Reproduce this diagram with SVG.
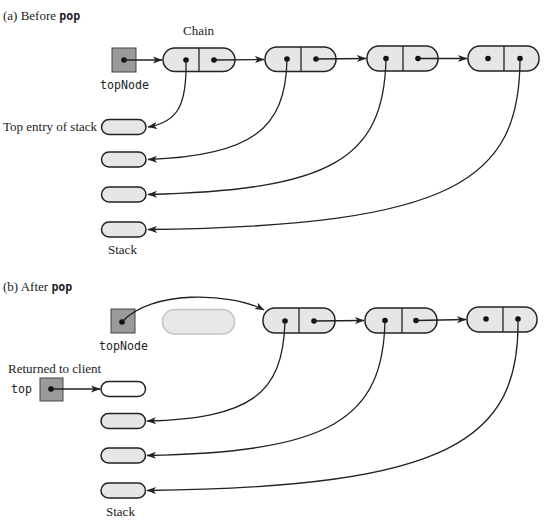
<svg xmlns="http://www.w3.org/2000/svg" width="545" height="526" viewBox="0 0 545 526">
<style>
.lbl{font-family:"Liberation Serif","Times New Roman",serif;font-size:13px;fill:#222}
.mono{font-family:"DejaVu Sans Mono","Liberation Mono",monospace;font-size:11.6px;fill:#222}
.node{fill:#e6e6e6;stroke:#222;stroke-width:1.5}
.div{stroke:#222;stroke-width:1.3}
.ghost{fill:#e8e8e8;stroke:#c4c4c4;stroke-width:1.5}
.empty{fill:#fff;stroke:#222;stroke-width:1.5}
.ref{fill:#9a9a9a;stroke:#444;stroke-width:1}
.dot{fill:#111}
.conn{fill:none;stroke:#222;stroke-width:1.3;marker-end:url(#ah)}
</style>
<defs>
<marker id="ah" markerWidth="10" markerHeight="8" refX="9" refY="4" orient="auto" markerUnits="userSpaceOnUse">
<path d="M0,0.5 L9.5,4 L0,7.5 L2.5,4 z" fill="#222"/>
</marker>
</defs>
<rect width="545" height="526" fill="#fff"/>

<text class="lbl" x="3" y="20">(a) Before <tspan class="mono" style="font-weight:bold">pop</tspan></text>
<text class="lbl" x="183" y="35">Chain</text>

<g id="a-topNode">
<rect class="ref" x="112" y="48" width="24" height="24"/>
<circle class="dot" cx="124" cy="60" r="2.8"/>
<text class="mono" x="100" y="89">topNode</text>
</g>
<g id="a-n1">
<rect class="node" x="163" y="48" width="72" height="23.5" rx="11.75"/>
<line class="div" x1="199" y1="48" x2="199" y2="71.5"/>
<circle class="dot" cx="186" cy="60" r="2.8"/><circle class="dot" cx="214" cy="60" r="2.8"/>
</g>
<g id="a-n2">
<rect class="node" x="265" y="47" width="71" height="24.5" rx="12"/>
<line class="div" x1="301" y1="47" x2="301" y2="71.5"/>
<circle class="dot" cx="287" cy="59" r="2.8"/><circle class="dot" cx="316" cy="59" r="2.8"/>
</g>
<g id="a-n3">
<rect class="node" x="367" y="46" width="71" height="25" rx="12"/>
<line class="div" x1="403" y1="46" x2="403" y2="71"/>
<circle class="dot" cx="386" cy="58.5" r="2.8"/><circle class="dot" cx="418" cy="58.5" r="2.8"/>
</g>
<g id="a-n4">
<rect class="node" x="468" y="46" width="71" height="25" rx="12"/>
<line class="div" x1="504" y1="46" x2="504" y2="71"/>
<circle class="dot" cx="488" cy="58.5" r="2.8"/><circle class="dot" cx="520" cy="58.5" r="2.8"/>
</g>

<text class="lbl" x="3" y="131">Top entry of stack</text>
<g id="a-s1"><rect class="node" x="101.5" y="119.5" width="44.5" height="15" rx="7.5"/></g>
<g id="a-s2"><rect class="node" x="101.5" y="152" width="44.5" height="15" rx="7.5"/></g>
<g id="a-s3"><rect class="node" x="101.5" y="187" width="44.5" height="15" rx="7.5"/></g>
<g id="a-s4"><rect class="node" x="101.5" y="222" width="44.5" height="15" rx="7.5"/></g>
<text class="lbl" x="108" y="254">Stack</text>

<text class="lbl" x="3" y="291">(b) After <tspan class="mono" style="font-weight:bold">pop</tspan></text>

<g id="b-topNode">
<rect class="ref" x="111" y="309" width="24" height="24"/>
<circle class="dot" cx="122" cy="322" r="2.8"/>
<text class="mono" x="99" y="350">topNode</text>
</g>
<g id="b-ghost"><rect class="ghost" x="162.5" y="309.5" width="72" height="24.5" rx="12"/></g>
<g id="b-n1">
<rect class="node" x="263" y="308" width="72" height="25" rx="12"/>
<line class="div" x1="299" y1="308" x2="299" y2="333"/>
<circle class="dot" cx="285" cy="321" r="2.8"/><circle class="dot" cx="314" cy="321" r="2.8"/>
</g>
<g id="b-n2">
<rect class="node" x="365" y="308" width="72" height="25" rx="12"/>
<line class="div" x1="402" y1="308" x2="402" y2="333"/>
<circle class="dot" cx="385" cy="320.5" r="2.8"/><circle class="dot" cx="416" cy="320.5" r="2.8"/>
</g>
<g id="b-n3">
<rect class="node" x="467" y="307" width="70" height="25" rx="12"/>
<line class="div" x1="503" y1="307" x2="503" y2="332"/>
<circle class="dot" cx="486" cy="319" r="2.8"/><circle class="dot" cx="518" cy="319" r="2.8"/>
</g>

<text class="lbl" x="8" y="373">Returned to client</text>
<text class="mono" x="11" y="393">top</text>
<g id="b-top">
<rect class="ref" x="40" y="378" width="23" height="23"/>
<circle class="dot" cx="51" cy="389" r="2.8"/>
</g>
<g id="b-s0"><rect class="empty" x="101" y="381.5" width="44.5" height="15" rx="7.5"/></g>
<g id="b-s1"><rect class="node" x="101" y="413.5" width="44.5" height="15" rx="7.5"/></g>
<g id="b-s2"><rect class="node" x="101" y="448" width="44.5" height="15" rx="7.5"/></g>
<g id="b-s3"><rect class="node" x="101" y="483" width="44.5" height="15" rx="7.5"/></g>
<text class="lbl" x="106" y="516">Stack</text>

<g id="connectors">
<line class="conn" x1="124" y1="60" x2="162" y2="60"/>
<line class="conn" x1="214" y1="60" x2="264" y2="59.5"/>
<line class="conn" x1="316" y1="59" x2="366" y2="58.5"/>
<line class="conn" x1="418" y1="58.5" x2="467" y2="58.5"/>
<path class="conn" d="M186,60 C187,105 178,122 148,127"/>
<path class="conn" d="M287,59 C286,130 250,156 148,159.5"/>
<path class="conn" d="M386,58.5 C384,160 330,190 148,194.5"/>
<path class="conn" d="M520,58.5 C520,180 455,226 148,229.5"/>

<path class="conn" d="M122,322 C150,290 230,292 264,310"/>
<line class="conn" x1="314" y1="321" x2="364" y2="320.5"/>
<line class="conn" x1="416" y1="320.5" x2="466" y2="319.5"/>
<line class="conn" x1="51" y1="389" x2="100" y2="389"/>
<path class="conn" d="M285,321 C283,395 250,418 147,421"/>
<path class="conn" d="M385,320.5 C383,420 330,452 147,455.5"/>
<path class="conn" d="M518,319 C520,440 450,487 147,490.5"/>
</g>
</svg>
